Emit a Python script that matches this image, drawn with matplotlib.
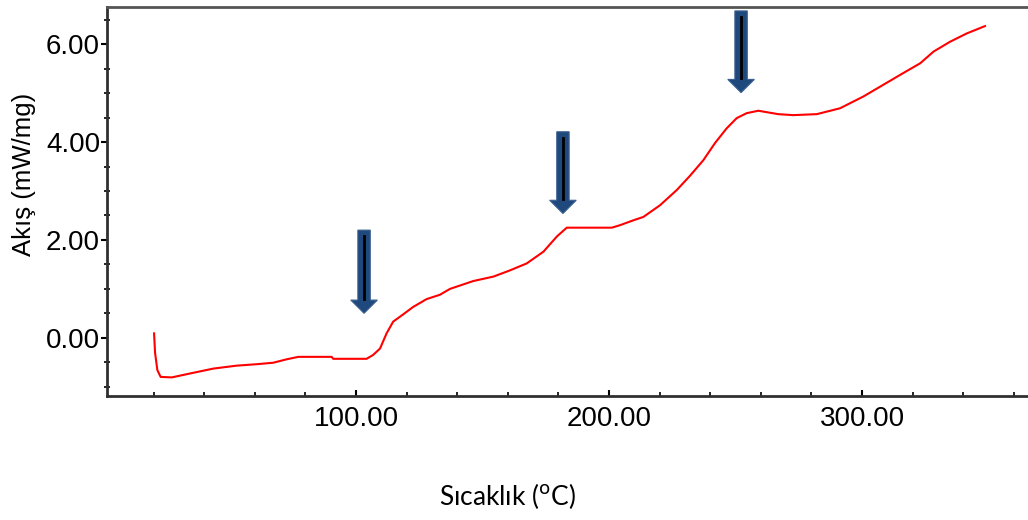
import matplotlib.pyplot as plt
from matplotlib.patches import FancyArrow
from matplotlib.ticker import MultipleLocator, FormatStrFormatter

# DSC curve
temp = [20.2, 20.6, 21.5, 22.8, 27.2, 34.4, 43.6, 52.8, 60.8, 67.3, 72.6, 77.2,
        90.4, 91.0, 104.2, 106.8, 109.5, 112.1, 114.7, 118.7, 122.6, 127.9, 133.2,
        137.2, 146.4, 154.3, 161.0, 167.5, 174.1, 179.4, 183.3, 201.1, 204.3, 209.6,
        213.6, 220.2, 226.8, 232.0, 237.3, 241.9, 246.5, 250.5, 254.4, 259.0, 266.9,
        272.8, 282.1, 291.3, 300.5, 308.4, 316.3, 323.0, 328.3, 334.8, 341.4, 348.6]
flow = [0.09, -0.31, -0.66, -0.80, -0.81, -0.73, -0.63, -0.57, -0.54, -0.51, -0.44, -0.39,
        -0.39, -0.43, -0.43, -0.35, -0.22, 0.09, 0.33, 0.48, 0.63, 0.79, 0.88,
        1.00, 1.16, 1.25, 1.38, 1.52, 1.76, 2.07, 2.25, 2.25, 2.30, 2.40,
        2.47, 2.71, 3.02, 3.31, 3.63, 3.98, 4.28, 4.49, 4.59, 4.64, 4.57,
        4.55, 4.57, 4.69, 4.93, 5.17, 5.41, 5.61, 5.85, 6.05, 6.22, 6.37]

# arrow markers: x position, top, tip (data units)
arrow_x = [103.2, 181.8, 252.2]
arrow_top = [2.20, 4.21, 6.68]
arrow_tip = [0.50, 2.54, 5.01]

fig = plt.figure(figsize=(10.28, 5.2), dpi=100)
ax = fig.add_axes([107/1028, 1-396/520, 1-107/1028, (396-7)/520])

ax.plot(temp, flow, color='red', lw=1.5)

for x, top, tip in zip(arrow_x, arrow_top, arrow_tip):
    hl = 0.27
    ax.add_patch(FancyArrow(x, top, 0, tip - top, width=4.9, head_width=10.5,
                            head_length=hl, length_includes_head=True,
                            facecolor='#1f497d', edgecolor='#3a6090', lw=0.8, zorder=3))
    ax.plot([x, x], [top - 0.12, tip + hl + 0.02], color='black', lw=2, zorder=4)

ax.set_xlim(1.6, 365.6)
ax.set_ylim(-1.19, 6.76)

ax.xaxis.set_major_locator(MultipleLocator(100))
ax.xaxis.set_minor_locator(MultipleLocator(20))
ax.yaxis.set_major_locator(MultipleLocator(2))
ax.yaxis.set_minor_locator(MultipleLocator(0.5))
ax.xaxis.set_major_formatter(FormatStrFormatter('%.2f'))
ax.yaxis.set_major_formatter(FormatStrFormatter('%.2f'))

ax.tick_params(axis='x', which='both', direction='in', pad=7, labelsize=20)
ax.tick_params(axis='x', which='major', length=4, width=1.5)
ax.tick_params(axis='x', which='minor', length=3, width=1.2)
ax.tick_params(axis='y', which='major', direction='out', length=4, width=1.5, pad=1, labelsize=20)
ax.tick_params(axis='y', which='minor', direction='inout', length=5, width=1.2)
for lab in ax.get_xticklabels() + ax.get_yticklabels():
    lab.set_fontfamily('Liberation Sans')

ax.spines['right'].set_visible(False)
for s in ['left', 'bottom']:
    ax.spines[s].set_linewidth(2)
    ax.spines[s].set_color('#303030')
ax.spines['top'].set_linewidth(2)
ax.spines['top'].set_color('#555555')

fig.text(24/1028, 1-174/520, 'Akış (mW/mg)', rotation=90, ha='center', va='center',
         fontsize=18.5, family='Liberation Sans')
fig.text(508/1028, 1-496/520, 'Sıcaklık ($^{\\mathrm{o}}$C)', ha='center', va='center',
         fontsize=19, family='Lato')

fig.savefig('out.png', dpi=100)
